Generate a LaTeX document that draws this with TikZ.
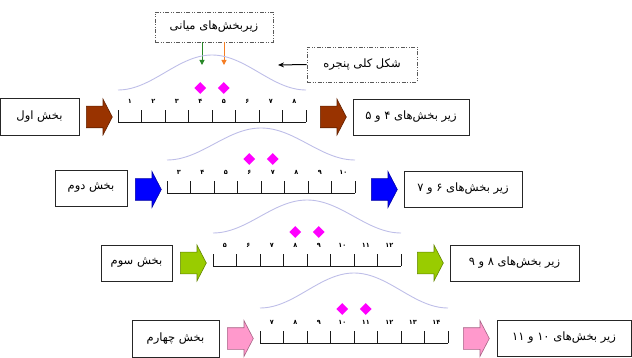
\documentclass[tikz,border=0pt]{standalone}
\usepackage{fontspec}
\usetikzlibrary{shapes.geometric,shapes.arrows,arrows.meta}
\TeXXeTstate=1
\newfontfamily\fafont[Script=Arabic]{DejaVu Sans}
\newcommand\fa[1]{{\fafont\beginR #1\endR}}

\definecolor{bellcol}{RGB}{190,190,232}
\definecolor{brownarr}{RGB}{153,51,0}
\definecolor{bluearr}{RGB}{0,0,255}
\definecolor{greenarr}{RGB}{153,204,0}
\definecolor{pinkarr}{RGB}{255,153,204}
\definecolor{gemcol}{RGB}{255,0,255}
\definecolor{leftptr}{RGB}{40,135,40}
\definecolor{rightptr}{RGB}{245,125,35}

% ruler: #1 row tag, #2 left x, #3 baseline y, #4 list of eight labels
\newcommand\segruler[4]{%
  \draw[rulerline] (#2,#3) -- ++(188,0);
  \foreach \i in {0,...,8} \draw[rulerline] ({#2+23.5*\i},#3) -- ++(0,-12);
  \foreach \t [count=\i from 0] in {#4}
    \node[num] (#1n\i) at ({#2+23.5*\i+11.75},{#3-21}) {\t};
  \node[gem] (#1d1) at ({#2+23.5*3.5},{#3-34}) {};
  \node[gem] (#1d2) at ({#2+23.5*4.5},{#3-34}) {};
}
% bell-shaped window over a ruler: #1 left x, #2 end y, #3 height
\newcommand\bellcurve[3]{%
  \draw[bell] (#1,#2)
    .. controls ({#1+34.2},#2) and ({#1+59.8},{#2-#3}) .. ({#1+94},{#2-#3})
    .. controls ({#1+128.2},{#2-#3}) and ({#1+153.8},#2) .. ({#1+188},#2);
}

\begin{document}
\begin{tikzpicture}[x=1pt,y=-1pt,
  labelbox/.style={draw=black!85,line width=0.7pt,fill=white,inner sep=0pt,
    font=\fontsize{11.5}{13}\selectfont},
  notebox/.style={draw=black!65,line width=0.7pt,inner sep=0pt,
    dash pattern=on 4pt off 1.5pt on 1pt off 1.5pt on 1pt off 1.5pt,
    font=\fontsize{11.5}{13}\selectfont},
  blockarrow/.style={single arrow,draw=#1!65!black,fill=#1,line width=0.6pt,
    inner xsep=0pt,inner ysep=10.5pt,minimum height=26pt,
    single arrow head extend=7pt,single arrow tip angle=125,anchor=tail},
  rulerline/.style={draw=black!90,line width=0.8pt},
  num/.style={inner sep=0pt,font=\fafont\bfseries\fontsize{6.5}{7}\selectfont},
  gem/.style={diamond,fill=gemcol,inner sep=0pt,minimum size=12pt},
  bell/.style={draw=bellcol,line width=0.9pt},
  pointer/.style={line width=1pt,-{Triangle[length=5pt,width=5pt]}}
]
\useasboundingbox (0,0) rectangle (632,358);

% labels above the first row
\node[notebox,minimum width=118pt,minimum height=30pt] (mid) at (214,27) {\fa{زیربخش‌های میانی}};
\node[notebox,minimum width=110pt,minimum height=35pt] (wnd) at (362,64.5) {\fa{شکل کلی پنجره}};
\coordinate (gt) at (202,65);
\coordinate (ot) at (224,65);
\coordinate (wt) at (278,65);
\draw[pointer,leftptr] (mid.south -| gt) -- (gt);
\draw[pointer,rightptr] (mid.south -| ot) -- (ot);
\draw[pointer,black,-{Stealth[length=6pt,width=5pt]}] (wnd.west) -- (wt);

% first row
\bellcurve{118}{90}{35}
\node[labelbox,minimum width=79pt,minimum height=37pt] (l1) at (39.5,116.5) {\fa{بخش اول}};
\node[blockarrow=brownarr] (a1) at (86,117) {};
\segruler{r1}{118}{122}{۱,۲,۳,۴,۵,۶,۷,۸}
\node[blockarrow=brownarr] (b1) at (320,117) {};
\node[labelbox,minimum width=116pt,minimum height=36pt] (s1) at (411,117) {\fa{زیر بخش‌های ۴ و ۵}};

% second row
\bellcurve{167}{160}{32}
\node[labelbox,minimum width=72pt,minimum height=36pt] (l2) at (91,188) {\fa{بخش دوم}};
\node[blockarrow=bluearr] (a2) at (135,189.5) {};
\segruler{r2}{167}{193}{۳,۴,۵,۶,۷,۸,۹,۱۰}
\node[blockarrow=bluearr] (b2) at (371,189.5) {};
\node[labelbox,minimum width=118pt,minimum height=36pt] (s2) at (463,189) {\fa{زیر بخش‌های ۶ و ۷}};

% third row
\bellcurve{213}{233}{33}
\node[labelbox,minimum width=71pt,minimum height=36pt] (l3) at (136.5,263) {\fa{بخش سوم}};
\node[blockarrow=greenarr] (a3) at (180,263) {};
\segruler{r3}{213}{266}{۵,۶,۷,۸,۹,۱۰,۱۱,۱۲}
\node[blockarrow=greenarr] (b3) at (417,263) {};
\node[labelbox,minimum width=129pt,minimum height=36pt] (s3) at (514.5,263) {\fa{زیر بخش‌های ۸ و ۹}};

% fourth row
\bellcurve{260}{308}{35}
\node[labelbox,minimum width=87pt,minimum height=37pt] (l4) at (175.5,338.5) {\fa{بخش چهارم}};
\node[blockarrow=pinkarr] (a4) at (227,338.5) {};
\segruler{r4}{260}{343}{۷,۸,۹,۱۰,۱۱,۱۲,۱۳,۱۴}
\node[blockarrow=pinkarr] (b4) at (463,338.5) {};
\node[labelbox,minimum width=134pt,minimum height=36pt] (s4) at (564,338) {\fa{زیر بخش‌های ۱۰ و ۱۱}};
\end{tikzpicture}
\end{document}
